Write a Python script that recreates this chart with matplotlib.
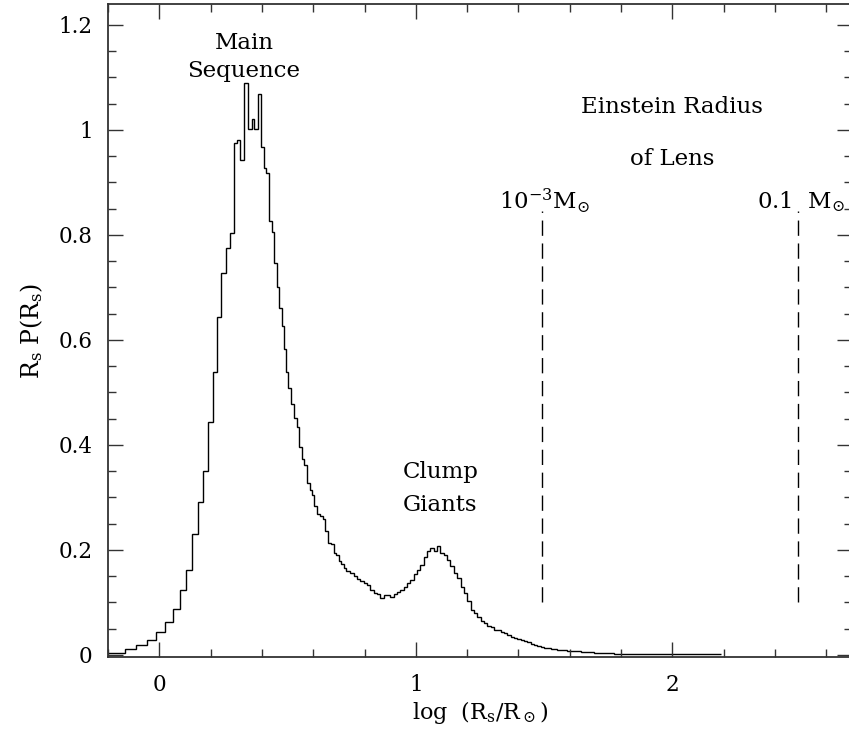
import matplotlib
matplotlib.use('Agg')
import matplotlib.pyplot as plt
from matplotlib.ticker import MultipleLocator, FuncFormatter

# ---- data (log R_s bins and R_s P(R_s)) ----
bin_left = [
    -0.200, -0.132, -0.090, -0.048, -0.012, 0.023, 0.053, 0.079, 0.105, 0.127,
    0.150, 0.169, 0.189, 0.209, 0.225, 0.240, 0.259, 0.274, 0.290, 0.303,
    0.316, 0.331, 0.347, 0.361, 0.370, 0.385, 0.398, 0.407, 0.416, 0.426,
    0.439, 0.446, 0.459, 0.468, 0.480, 0.485, 0.493, 0.502, 0.515, 0.524,
    0.537, 0.546, 0.556, 0.565, 0.576, 0.586, 0.595, 0.604, 0.615, 0.628,
    0.638, 0.647, 0.658, 0.669, 0.680, 0.690, 0.699, 0.710, 0.719, 0.729,
    0.745, 0.758, 0.771, 0.784, 0.797, 0.810, 0.823, 0.836, 0.849, 0.862,
    0.875, 0.888, 0.901, 0.914, 0.927, 0.940, 0.953, 0.966, 0.979, 0.992,
    1.005, 1.018, 1.031, 1.044, 1.057, 1.070, 1.083, 1.096, 1.109, 1.122,
    1.135, 1.148, 1.161, 1.174, 1.187, 1.200, 1.213, 1.226, 1.239, 1.252,
    1.265, 1.278, 1.291, 1.304, 1.317, 1.330, 1.343, 1.356, 1.369, 1.382,
    1.395, 1.408, 1.421, 1.434, 1.447, 1.460, 1.473, 1.486, 1.499, 1.512,
    1.525, 1.538, 1.551, 1.564, 1.590, 1.616, 1.642, 1.668, 1.694, 1.720,
    1.746, 1.772, 1.798,
]
last_edge = 2.190

heights = [
    0.0045, 0.011, 0.019, 0.029, 0.043, 0.062, 0.088, 0.124, 0.161, 0.230,
    0.292, 0.351, 0.443, 0.538, 0.643, 0.727, 0.776, 0.803, 0.975, 0.981,
    0.943, 1.090, 1.001, 1.020, 1.001, 1.068, 0.967, 0.927, 0.918, 0.827,
    0.805, 0.746, 0.700, 0.660, 0.627, 0.583, 0.538, 0.508, 0.478, 0.451,
    0.434, 0.396, 0.373, 0.362, 0.327, 0.314, 0.305, 0.284, 0.268, 0.265,
    0.258, 0.236, 0.213, 0.211, 0.194, 0.190, 0.178, 0.173, 0.165, 0.159,
    0.156, 0.150, 0.144, 0.140, 0.137, 0.133, 0.124, 0.118, 0.116, 0.108,
    0.114, 0.114, 0.111, 0.116, 0.119, 0.124, 0.130, 0.137, 0.143, 0.154,
    0.162, 0.171, 0.187, 0.197, 0.203, 0.197, 0.207, 0.194, 0.190, 0.181,
    0.170, 0.156, 0.146, 0.130, 0.118, 0.102, 0.086, 0.079, 0.073, 0.064,
    0.060, 0.055, 0.053, 0.048, 0.047, 0.044, 0.041, 0.038, 0.035, 0.032,
    0.030, 0.029, 0.026, 0.024, 0.021, 0.019, 0.017, 0.016, 0.014, 0.013,
    0.012, 0.011, 0.0095, 0.0085, 0.008, 0.007, 0.006, 0.005, 0.0044, 0.0035,
    0.003, 0.002, 0.0014,
]

lens_x = [1.49, 2.49]          # log Einstein radius of lens
lens_y = [0.10, 0.845]
lens_labels = [r'$\mathrm{10^{-3}M_{\odot}}$', r'$\mathrm{0.1\ \ M_{\odot}}$']

# ---- style ----
plt.rcParams['font.family'] = ['DejaVu Serif']
plt.rcParams['mathtext.fontset'] = 'dejavuserif'

fig = plt.figure(figsize=(8.49, 7.29), dpi=100)
ax = fig.add_axes([108 / 849, 1 - 657 / 729, 744 / 849, 653 / 729])

edges = bin_left + [last_edge]
ax.stairs(heights, edges, color='black', lw=1.0, baseline=None)

fs = 16.5
for xv, lab in zip(lens_x, lens_labels):
    ax.plot([xv, xv], lens_y, color='black', lw=1.0, ls=(0, (11, 5.5)))
    ax.text(xv + 0.01, 0.851, lab, ha='center', va='baseline', fontsize=fs)

ax.text(0.33, 1.154, 'Main', ha='center', va='baseline', fontsize=fs)
ax.text(0.33, 1.101, 'Sequence', ha='center', va='baseline', fontsize=fs)
ax.text(1.096, 0.337, 'Clump', ha='center', va='baseline', fontsize=fs)
ax.text(1.096, 0.274, 'Giants', ha='center', va='baseline', fontsize=fs)
ax.text(2.0, 1.032, 'Einstein Radius', ha='center', va='baseline', fontsize=fs)
ax.text(2.0, 0.933, 'of Lens', ha='center', va='baseline', fontsize=fs)

ax.set_xlim(-0.2, 2.7)
ax.set_ylim(-0.004, 1.24)
ax.xaxis.set_major_locator(MultipleLocator(1))
ax.xaxis.set_minor_locator(MultipleLocator(0.2))
ax.yaxis.set_major_locator(MultipleLocator(0.2))
ax.yaxis.set_minor_locator(MultipleLocator(0.05))
fmt = FuncFormatter(lambda v, p: '%g' % round(v, 3))
ax.xaxis.set_major_formatter(fmt)
ax.yaxis.set_major_formatter(fmt)
ax.tick_params(which='both', direction='in', top=True, right=True,
               width=1.0, color='#333333')
ax.tick_params(which='major', length=11)
ax.tick_params(which='minor', length=5.5)
ax.tick_params(axis='x', which='major', labelsize=15.5, pad=12.5)
ax.tick_params(axis='y', which='major', labelsize=15.5, pad=11)
for s in ax.spines.values():
    s.set_linewidth(1.3)
    s.set_color('#333333')

ax.set_xlabel(r'$\mathrm{log\ \ (R_s/R_\odot)}$', fontsize=16, labelpad=2)
ax.set_ylabel(r'$\mathrm{R_s\ P(R_s)}$', fontsize=17, labelpad=10)

fig.savefig('out.png', dpi=100)
